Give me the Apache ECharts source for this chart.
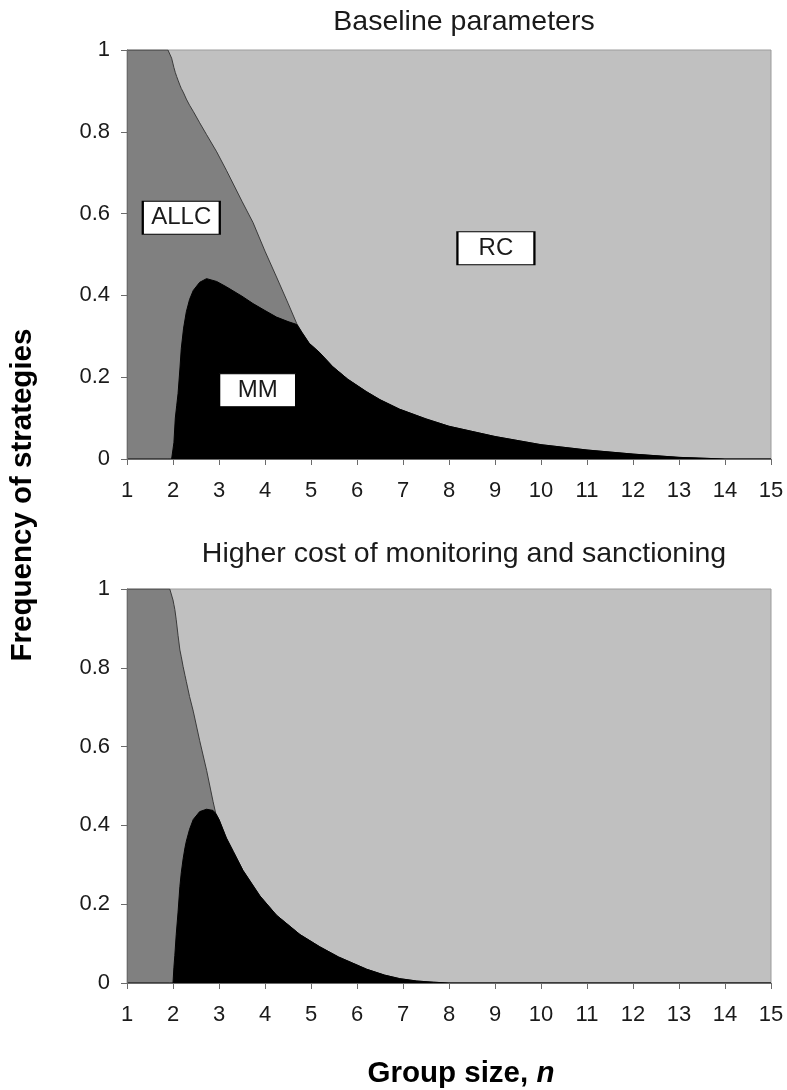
<!DOCTYPE html>
<html>
<head>
<meta charset="utf-8">
<script src="https://cdn.jsdelivr.net/npm/echarts@6/dist/echarts.min.js"></script>
<style>
  html, body { margin: 0; padding: 0; background: #ffffff; }
  #chart { width: 787px; height: 1090px; }
</style>
</head>
<body>
<div id="chart"></div>
<script>
// Panel titles
const panelTitles = ['Baseline parameters', 'Higher cost of monitoring and sanctioning'];

// Axis ranges
const groupSizeRange = [1, 15];
const frequencyRange = [0, 1];

// Baseline parameters: group size n and equilibrium frequency of MM and ALLC
const nBase = [1, 1.89, 1.97, 2.0, 2.02, 2.05, 2.08, 2.11, 2.15, 2.18, 2.23, 2.29, 2.36, 2.44, 2.58, 2.73, 2.95, 3.16, 3.5, 3.74, 4.0, 4.25, 4.5, 4.69, 4.8, 4.96, 5.19, 5.47, 5.8, 6.2, 6.5, 6.92, 7.5, 8, 9, 10, 11, 12, 13, 14, 15];
const mmBase = [0, 0, 0, 0, 0.04, 0.10, 0.13, 0.16, 0.22, 0.27, 0.32, 0.36, 0.39, 0.412, 0.432, 0.441, 0.434, 0.421, 0.398, 0.380, 0.363, 0.347, 0.336, 0.329, 0.31, 0.283, 0.26, 0.226, 0.195, 0.165, 0.145, 0.122, 0.098, 0.08, 0.055, 0.035, 0.022, 0.012, 0.004, 0, 0];
const allcBase = [1, 1, 0.98, 0.966, 0.917, 0.845, 0.805, 0.766, 0.694, 0.636, 0.575, 0.52, 0.475, 0.438, 0.39, 0.352, 0.317, 0.285, 0.232, 0.198, 0.145, 0.098, 0.045, 0.002, 0, 0, 0, 0, 0, 0, 0, 0, 0, 0, 0, 0, 0, 0, 0, 0, 0];

// Higher cost of monitoring and sanctioning
const nHigh = [1, 1.93, 2.0, 2.02, 2.04, 2.07, 2.11, 2.15, 2.18, 2.22, 2.26, 2.29, 2.36, 2.44, 2.58, 2.73, 2.87, 2.93, 3.0, 3.16, 3.31, 3.52, 3.89, 4.25, 4.76, 5.19, 5.6, 6.21, 6.6, 6.93, 7.3, 7.66, 8, 9, 10, 11, 12, 13, 14, 15];
const mmHigh = [0, 0, 0, 0.04, 0.07, 0.123, 0.18, 0.245, 0.28, 0.315, 0.343, 0.36, 0.39, 0.415, 0.435, 0.441, 0.438, 0.43, 0.415, 0.368, 0.334, 0.286, 0.221, 0.172, 0.123, 0.092, 0.066, 0.035, 0.02, 0.011, 0.005, 0.002, 0, 0, 0, 0, 0, 0, 0, 0];
const allcHigh = [1, 1, 0.972, 0.92, 0.878, 0.799, 0.702, 0.60, 0.548, 0.488, 0.438, 0.405, 0.337, 0.275, 0.18, 0.099, 0.023, 0, 0, 0, 0, 0, 0, 0, 0, 0, 0, 0, 0, 0, 0, 0, 0, 0, 0, 0, 0, 0, 0, 0];

// Strategy names placed inside their regions (n, frequency, label)
const regionLabels = [[2.18, 0.590, 'ALLC'], [3.84, 0.168, 'MM'], [9.02, 0.515, 'RC']];

const FONT = '"Liberation Sans", Arial, sans-serif';
const AXIS_COLOR = '#6b6b6b';
const TEXT_COLOR = '#1a1a1a';
const RC_COLOR = '#c0c0c0';
const ALLC_COLOR = '#808080';
const MM_COLOR = '#000000';

// RC takes the remaining share, so it is the plot background
const grids = [
  { left: 127, top: 50, width: 644, height: 409 },
  { left: 127, top: 589, width: 644, height: 408 }
].map(g => Object.assign(g, {
  show: true,
  backgroundColor: RC_COLOR,
  borderColor: '#9c9c9c',
  borderWidth: 1
}));

function xAxis(gridIndex) {
  const axis = {
    type: 'value', gridIndex,
    min: groupSizeRange[0], max: groupSizeRange[1], interval: 1,
    axisLine: { show: true, onZero: false, lineStyle: { color: AXIS_COLOR, width: 1 } },
    axisTick: { show: true, length: 6, lineStyle: { color: AXIS_COLOR } },
    axisLabel: { fontSize: 22, color: TEXT_COLOR, fontFamily: FONT, margin: 21 },
    splitLine: { show: false },
    z: 10
  };
  if (gridIndex === 1) {
    axis.name = '{a|Group size, }{b|n}';
    axis.nameLocation = 'middle';
    axis.nameGap = 76;
    axis.nameTextStyle = {
      padding: [0, 0, 0, 24],
      rich: {
        a: { fontSize: 29.5, fontWeight: 'bold', fontFamily: FONT, color: '#000' },
        b: { fontSize: 29.5, fontWeight: 'bold', fontStyle: 'italic', fontFamily: FONT, color: '#000' }
      }
    };
  }
  return axis;
}

function yAxis(gridIndex) {
  return {
    type: 'value', gridIndex,
    min: frequencyRange[0], max: frequencyRange[1], interval: 0.2,
    axisLine: { show: true, lineStyle: { color: AXIS_COLOR, width: 1 } },
    axisTick: { show: true, length: 6, lineStyle: { color: AXIS_COLOR } },
    axisLabel: { fontSize: 22, color: TEXT_COLOR, fontFamily: FONT, margin: 17 },
    splitLine: { show: false },
    z: 10
  };
}

// Cumulative layering: the ALLC band sits on top of MM, so its outer edge is MM + ALLC.
// The grey layer is drawn first up to that edge, then MM is painted over it in black.
function panelSeries(idx, ns, mm, allc) {
  return [
    {
      name: 'ALLC', type: 'line', xAxisIndex: idx, yAxisIndex: idx,
      data: ns.map((n, i) => [n, mm[i] + allc[i]]),
      symbol: 'none', smooth: false,
      lineStyle: { color: '#3a3a3a', width: 1 },
      areaStyle: { color: ALLC_COLOR, opacity: 1 },
      z: 2
    },
    {
      name: 'MM', type: 'line', xAxisIndex: idx, yAxisIndex: idx,
      data: ns.map((n, i) => [n, mm[i]]),
      symbol: 'none', smooth: false,
      lineStyle: { color: MM_COLOR, width: 1 },
      areaStyle: { color: MM_COLOR, opacity: 1 },
      z: 3
    }
  ];
}

const option = {
  animation: false,
  backgroundColor: '#ffffff',
  title: [
    { text: panelTitles[0], left: 459, top: 3, textAlign: 'center',
      textStyle: { fontSize: 28.5, fontWeight: 'normal', fontFamily: FONT, color: TEXT_COLOR } },
    { text: panelTitles[1], left: 459, top: 535, textAlign: 'center',
      textStyle: { fontSize: 28.5, fontWeight: 'normal', fontFamily: FONT, color: TEXT_COLOR } }
  ],
  grid: grids,
  xAxis: [xAxis(0), xAxis(1)],
  yAxis: [yAxis(0), yAxis(1)],
  graphic: [{
    type: 'text',
    x: 23, y: 495,
    rotation: Math.PI / 2,
    style: {
      text: 'Frequency of strategies',
      font: 'bold 29.5px ' + FONT,
      fill: '#000000',
      align: 'center', verticalAlign: 'middle',
      textAlign: 'center', textVerticalAlign: 'middle'
    }
  }],
  series: [
    ...panelSeries(0, nBase, mmBase, allcBase),
    ...panelSeries(1, nHigh, mmHigh, allcHigh),
    {
      name: 'labels', type: 'scatter', xAxisIndex: 0, yAxisIndex: 0,
      data: regionLabels.map(r => ({ value: [r[0], r[1]], name: r[2] })),
      symbol: 'rect', symbolSize: [77, 33],
      itemStyle: { color: '#ffffff', borderColor: '#000000', borderWidth: 1.5, opacity: 1 },
      label: { show: true, position: 'inside', formatter: p => p.name,
               fontSize: 24, color: TEXT_COLOR, fontFamily: FONT },
      silent: true,
      z: 5
    }
  ]
};

const chart = echarts.init(document.getElementById('chart'));
chart.setOption(option);
</script>
</body>
</html>
